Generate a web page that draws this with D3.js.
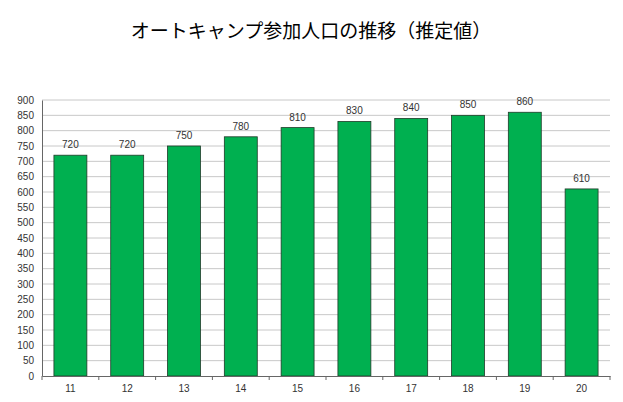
<!DOCTYPE html>
<html><head><meta charset="utf-8">
<script src="https://cdn.jsdelivr.net/npm/d3@7"></script>
<style>body{margin:0;background:#fff}</style>
</head><body><svg width="623" height="402"></svg>
<script>
const categories = ["11","12","13","14","15","16","17","18","19","20"];
const values = [720,720,750,780,810,830,840,850,860,610];
const yTicks = d3.range(0, 901, 50);

const svg = d3.select("svg");
const marginLeft = 42, marginRight = 13, marginTop = 100, marginBottom = 26;
const width = 623, height = 402;

svg.append("text").attr("x", 311).attr("y", 38).attr("text-anchor", "middle")
  .attr("font-family", "Noto Sans CJK JP").attr("font-size", 19).text("オートキャンプ参加人口の推移（推定値）");

const x = d3.scaleBand().domain(categories).range([marginLeft, width - marginRight]).paddingInner(0.42).paddingOuter(0.21);
const y = d3.scaleLinear().domain([0, 900]).range([height - marginBottom, marginTop]);

// grid
svg.append("g").selectAll("line").data(yTicks.filter(d => d > 0)).join("line")
  .attr("x1", marginLeft).attr("x2", width - marginRight)
  .attr("y1", d => y(d)).attr("y2", d => y(d))
  .attr("stroke", "#c8c8c8").attr("stroke-width", 1);

// y axis
const ya = svg.append("g").attr("transform", `translate(${marginLeft},0)`)
  .call(d3.axisLeft(y).tickValues(yTicks).tickSize(0).tickPadding(8));
ya.select(".domain").attr("stroke", "#666");
ya.selectAll("text").attr("font-family", "Liberation Sans").attr("font-size", 10).attr("fill", "#333");

// bars
svg.append("g").selectAll("rect").data(values).join("rect")
  .attr("x", (d, i) => x(categories[i])).attr("width", x.bandwidth())
  .attr("y", d => y(d)).attr("height", d => y(0) - y(d))
  .attr("fill", "#00b050").attr("stroke", "#1f3a28").attr("stroke-width", 0.8);

svg.append("g").selectAll("text").data(values).join("text")
  .attr("x", (d, i) => x(categories[i]) + x.bandwidth() / 2).attr("y", d => y(d) - 7)
  .attr("text-anchor", "middle").attr("font-family", "Liberation Sans").attr("font-size", 10).attr("fill", "#333")
  .text(d => d);

// x axis
const xa = svg.append("g").attr("transform", `translate(0,${y(0)})`)
  .call(d3.axisBottom(x).tickSize(0).tickPadding(9));
xa.select(".domain").attr("stroke", "#666");
xa.selectAll("text").attr("font-family", "Liberation Sans").attr("font-size", 10).attr("fill", "#333");
const step = x.step();
svg.append("g").selectAll("line").data(d3.range(categories.length + 1)).join("line")
  .attr("x1", i => marginLeft + i * step).attr("x2", i => marginLeft + i * step)
  .attr("y1", y(0)).attr("y2", y(0) + 4).attr("stroke", "#666");
</script></body></html>
